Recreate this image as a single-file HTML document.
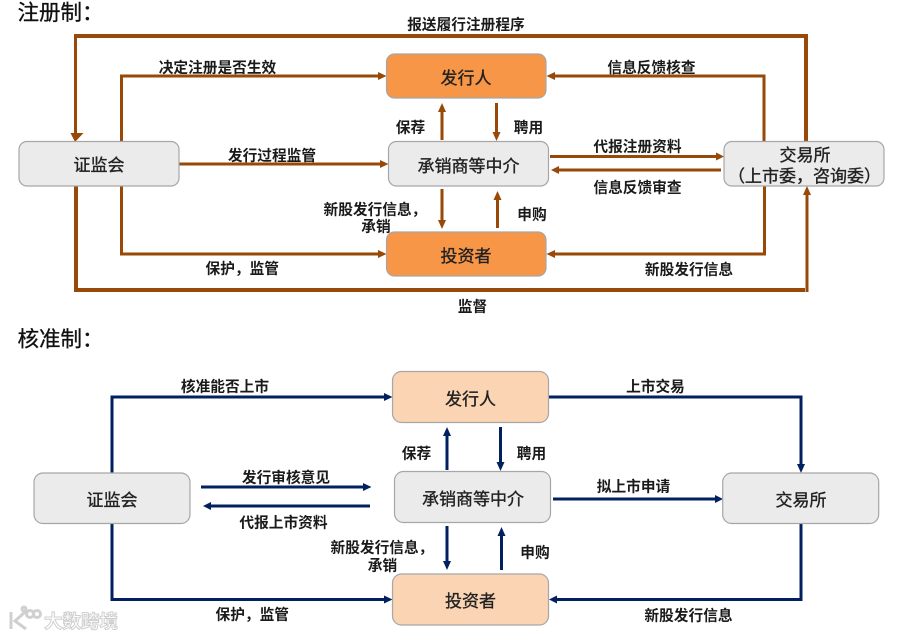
<!DOCTYPE html>
<html lang="zh"><head><meta charset="utf-8"><style>
html,body{margin:0;padding:0;background:#fff}
svg{display:block}
text{font-family:"Liberation Sans","Noto Sans CJK SC",sans-serif;fill:#1a1a1a}
.l{font-size:14.7px;font-weight:700;text-anchor:middle}
.s{font-size:14.7px;font-weight:700}
.n{font-size:17px;text-anchor:middle;fill:#222;stroke:#222;stroke-width:.35px}
.h{font-size:21.5px;fill:#111;stroke:#111;stroke-width:.3px}
.b{fill:none;stroke:#984807;stroke-width:3;stroke-linejoin:miter}
.bt{fill:none;stroke:#984807;stroke-width:4}
.bh{fill:#984807}
.v{fill:none;stroke:#002060;stroke-width:3}
.vh{fill:#002060}
.g{fill:#EBEBEB;stroke:#A6A6A6;stroke-width:1.2}
.o{fill:#F79646;stroke:#A6A6A6;stroke-width:1.2}
.p{fill:#FBD4B4;stroke:#A6A6A6;stroke-width:1.2}
</style></head><body>
<svg width="903" height="637" viewBox="0 0 903 637" xmlns="http://www.w3.org/2000/svg">
<text class="h" x="17.500" y="20">注册制：</text>
<text class="h" x="17.500" y="346.500">核准制：</text>

<!-- top connectors -->
<path class="bt" d="M806 142V36H76"/>
<path class="b" d="M75.500 34V134"/>
<polygon class="bh" points="70.500,133 83.500,133 75,142" transform="translate(0 0)"/>
<path class="bt" d="M76 185V290H805"/>
<path class="b" d="M807 292V194"/>
<polygon class="bh" points="803,195 811,195 807,186"/>
<path class="b" d="M121.500 142V76H379"/>
<polygon class="bh" points="378,72 386.500,76 378,80"/>
<path class="b" d="M179 164H381"/>
<polygon class="bh" points="380,160 388.500,164 380,168"/>
<path class="b" d="M121.500 186V254H379"/>
<polygon class="bh" points="378,250 386.500,254 378,258"/>
<path class="b" d="M442 140V110"/>
<polygon class="bh" points="438,112 446,112 442,103"/>
<path class="b" d="M496.500 103V134"/>
<polygon class="bh" points="492.500,132 500.500,132 496.500,141"/>
<path class="b" d="M442 189V222"/>
<polygon class="bh" points="438,220 446,220 442,229"/>
<path class="b" d="M497.500 228V198"/>
<polygon class="bh" points="493.500,200 501.500,200 497.500,191"/>
<path class="b" d="M550 156.500H717"/>
<polygon class="bh" points="716,152.500 724,156.500 716,160.500"/>
<path class="b" d="M721 170H558"/>
<polygon class="bh" points="559,166 551,170 559,174"/>
<path class="b" d="M764 142V76H553"/>
<polygon class="bh" points="555,72 546.500,76 555,80"/>
<path class="b" d="M764.500 186V254H553"/>
<polygon class="bh" points="555,250 546.500,254 555,258"/>

<!-- top nodes -->
<rect class="g" x="19" y="141.500" width="160" height="44.500" rx="8"/>
<rect class="o" x="386.500" y="54" width="159.500" height="44" rx="8"/>
<rect class="g" x="388.500" y="141.500" width="160" height="44.500" rx="8"/>
<rect class="o" x="386.500" y="232" width="159.500" height="44" rx="8"/>
<rect class="g" x="724" y="141.500" width="160" height="44.500" rx="8"/>
<text class="n" x="99" y="171">证监会</text>
<text class="n" x="466" y="84">发行人</text>
<text class="n" x="468.500" y="172">承销商等中介</text>
<text class="n" x="466" y="262">投资者</text>
<text class="n" x="805" y="161">交易所</text>
<text class="n" x="804.500" y="182">（上市委，咨询委）</text>

<!-- top labels -->
<text class="l" x="466" y="29.500">报送履行注册程序</text>
<text class="l" x="217.500" y="72.500">决定注册是否生效</text>
<text class="l" x="272" y="160.500">发行过程监管</text>
<text class="l" x="651.500" y="72.500">信息反馈核查</text>
<text class="l" x="410.500" y="132.500">保荐</text>
<text class="l" x="528.500" y="132.500">聘用</text>
<text class="l" x="637.500" y="151.500">代报注册资料</text>
<text class="l" x="637.500" y="192.500">信息反馈审查</text>
<text class="s" x="323.500" y="214.500">新股发行信息，</text>
<text class="l" x="376" y="231.500">承销</text>
<text class="l" x="532" y="219.500">申购</text>
<text class="s" x="205.500" y="273.500">保护，监管</text>
<text class="l" x="689" y="274.500">新股发行信息</text>
<text class="l" x="472.500" y="311.500">监督</text>

<!-- bottom connectors -->
<path class="v" d="M112 473V397H385"/>
<polygon class="vh" points="384,393 392.500,397 384,401"/>
<path class="v" d="M112 523V599.500H385"/>
<polygon class="vh" points="384,595.500 392.500,599.500 384,603.500"/>
<path class="v" d="M201 487H364"/>
<polygon class="vh" points="363,483 371.500,487 363,491"/>
<path class="v" d="M370 506H210"/>
<polygon class="vh" points="211,502 203,506 211,510"/>
<path class="v" d="M447 470V434"/>
<polygon class="vh" points="443,436 451,436 447,427"/>
<path class="v" d="M500.500 427V464"/>
<polygon class="vh" points="496.500,462 504.500,462 500.500,471"/>
<path class="v" d="M447 526V563"/>
<polygon class="vh" points="443,561 451,561 447,570"/>
<path class="v" d="M501.500 570V534"/>
<polygon class="vh" points="497.500,536 505.500,536 501.500,527"/>
<path class="v" d="M553 499H716"/>
<polygon class="vh" points="715,495 723,499 715,503"/>
<path class="v" d="M549 397H801V465"/>
<polygon class="vh" points="797,464 805,464 801,473"/>
<path class="v" d="M801 523V599.500H556"/>
<polygon class="vh" points="557,595.500 549,599.500 557,603.500"/>

<!-- bottom nodes -->
<rect class="g" x="34" y="473" width="156" height="50.500" rx="9"/>
<rect class="p" x="392.500" y="371.500" width="156" height="51" rx="9"/>
<rect class="g" x="394.500" y="471.500" width="156" height="51" rx="9"/>
<rect class="p" x="392.500" y="574" width="156" height="51" rx="9"/>
<rect class="g" x="722.700" y="473" width="156" height="50.500" rx="9"/>
<text class="n" x="112" y="506">证监会</text>
<text class="n" x="470.500" y="405">发行人</text>
<text class="n" x="473" y="505">承销商等中介</text>
<text class="n" x="470.500" y="607">投资者</text>
<text class="n" x="801" y="506">交易所</text>

<!-- bottom labels -->
<text class="l" x="225" y="391.500">核准能否上市</text>
<text class="l" x="655.500" y="391.500">上市交易</text>
<text class="l" x="416.500" y="458.500">保荐</text>
<text class="l" x="531.500" y="458.500">聘用</text>
<text class="l" x="286" y="482.500">发行审核意见</text>
<text class="l" x="283.500" y="527.500">代报上市资料</text>
<text class="l" x="633.500" y="491.500">拟上市申请</text>
<text class="s" x="330.500" y="552.500">新股发行信息，</text>
<text class="l" x="382.500" y="570.500">承销</text>
<text class="l" x="535" y="557.500">申购</text>
<text class="s" x="215.500" y="619.500">保护，监管</text>
<text class="l" x="688.500" y="620.500">新股发行信息</text>

<!-- watermark -->
<g fill="none" stroke="#D0D0D0" stroke-width="3">
<path d="M11 612V629M25 612L15 621L26 629"/>
<circle cx="24" cy="609" r="2"/>
<circle cx="30" cy="614" r="3.500"/>
<circle cx="37" cy="614" r="3.500"/>
</g>
<text x="44" y="628" style="font-size:18.500px;font-weight:700;fill:#fff;stroke:#CFCFCF;stroke-width:1">大数跨境</text>
</svg>
</body></html>
